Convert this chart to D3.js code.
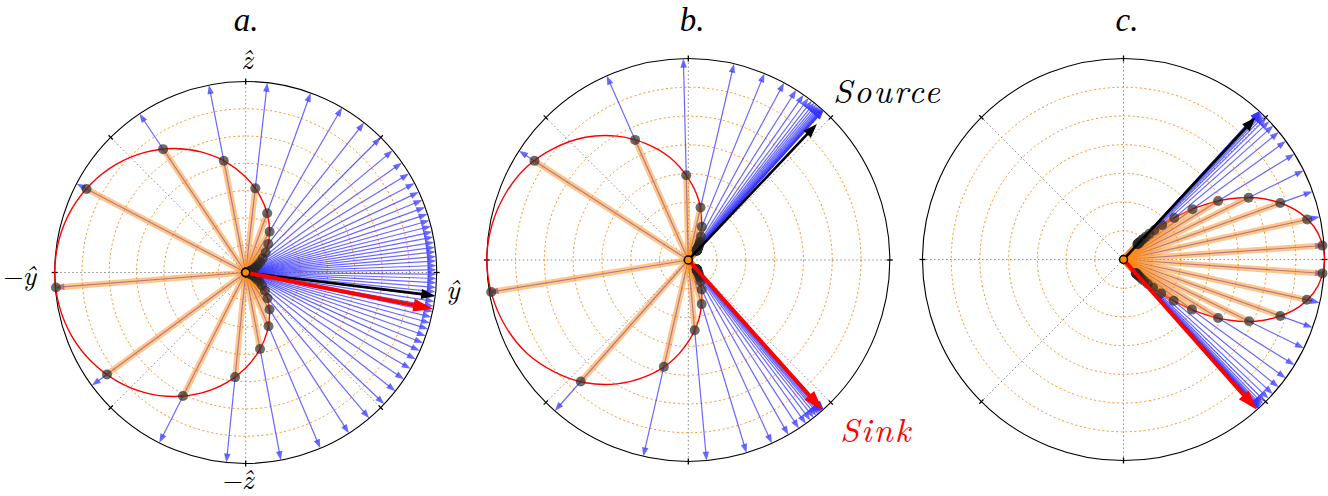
<!DOCTYPE html>
<html>
<head>
<meta charset="utf-8">
<script src="https://cdn.jsdelivr.net/npm/d3@7"></script>
<style>
body { margin: 0; background: #fff; }
svg { display: block; }
</style>
</head>
<body>
<svg id="fig" width="1328" height="496"></svg>
<script>
// radial axis
var rMax = 1.4;
var gridRadii = [0.2, 0.4, 0.6, 0.8, 1.0, 1.2];
var gridAngles = [0, 45, 90, 135, 180, 225, 270, 315];
var titles = ["a.", "b.", "c."];

// panel a: axis labels
var axisLabelsA = ["ŷ", "ẑ", "−ŷ", "−ẑ"];

// ray directions (deg, counter-clockwise from the right)
var raysA = [184.5, 152.3, 123.8, 101.1, 83.5, 70.1, 59.7, 51.7, 45.0, 39.7, 35.1, 31.2, 27.9,
	24.9, 22.3, 20.0, 17.8, 15.8, 14.0, 12.3, 10.7, 9.1, 7.6, 6.2, 4.8, 3.5, 2.1, 0.8, -0.5,
	-1.8, -3.1, -4.5, -5.8, -7.2, -8.7, -10.2, -11.8, -13.5, -15.3, -17.2, -19.4, -21.7, -24.2,
	-27.0, -30.3, -34.0, -38.4, -43.5, -49.7, -57.3, -67.0, -79.4, -95.8, -116.9, -143.7];
var raysB = [189.2, 147.2, 113.9, 91.4, 76.9, 67.8, 61.6, 57.6, 55.1, 53.4, 52.2, 51.3, 50.6,
	50.0, 49.5, 49.1, 48.8, 48.55, 48.35, 48.2, 48.1, 48.0, 47.9, 47.85,
	228.5, 257.1, 275.2, 286.8, 294.5, 299.8, 303.3, 305.7, 307.3, 308.5, 309.4, 310.1, 310.6,
	311.0, 311.3, 311.55, 311.75, 311.9, 312.0, 312.1, 312.15];
var raysC = [4.0, 12.3, 19.8, 26.3, 31.7, 36.1, 39.4, 41.8, 43.5, 44.7, 45.6, 46.2, 46.6, 46.9,
	47.1, 47.25, 47.35, 47.45, 47.5, 47.55,
	-4.0, -12.4, -19.8, -26.2, -31.7, -36.2, -39.5, -42.0, -43.8, -45.1, -46.0, -46.6, -47.0,
	-47.3, -47.5, -47.65, -47.75, -47.85, -47.9, -47.95];

// red curves [angle, r]
var curveA = [[0, 0], [10, 0.011], [20, 0.042], [30, 0.094], [40, 0.164], [50, 0.25], [60, 0.35],
	[70, 0.461], [80, 0.578], [90, 0.7], [100, 0.822], [110, 0.939], [120, 1.05], [130, 1.15],
	[140, 1.236], [150, 1.306], [160, 1.358], [170, 1.389], [180, 1.4], [190, 1.389], [200, 1.358],
	[210, 1.306], [220, 1.236], [230, 1.15], [240, 1.05], [250, 0.939], [260, 0.822], [270, 0.7],
	[280, 0.578], [290, 0.461], [300, 0.35], [310, 0.25], [320, 0.164], [330, 0.094], [340, 0.042],
	[350, 0.011]];
var curveB = [[0, 0], [10, 0.001], [20, 0.007], [30, 0.021], [40, 0.049], [50, 0.098], [60, 0.168],
	[70, 0.273], [80, 0.42], [90, 0.567], [100, 0.721], [110, 0.861], [120, 0.994], [130, 1.113],
	[140, 1.211], [150, 1.295], [160, 1.351], [170, 1.386], [180, 1.4], [190, 1.386], [200, 1.351],
	[210, 1.295], [220, 1.211], [230, 1.113], [240, 0.994], [250, 0.861], [260, 0.721], [270, 0.567],
	[280, 0.42], [290, 0.273], [300, 0.168], [310, 0.098], [320, 0.049], [330, 0.021], [340, 0.007],
	[350, 0.001]];
var curveC = [[50, 0], [48, 0.125], [46, 0.209], [43, 0.313], [40, 0.432], [35, 0.641], [30, 0.843],
	[25, 1.017], [20, 1.156], [15, 1.268], [10, 1.344], [5, 1.386], [0, 1.4], [-5, 1.386],
	[-10, 1.344], [-15, 1.268], [-20, 1.156], [-25, 1.017], [-30, 0.843], [-35, 0.641],
	[-40, 0.432], [-43, 0.313], [-46, 0.209], [-48, 0.125]];

// source (black) and sink (red) arrows: direction, length
var sourceDir = [-7, 46.6, 47.1];
var sourceLen = [1.4, 1.3, 1.35];
var sinkDir = [-11, -48.2, -48.4];
var sinkLen = [1.4, 1.4, 1.4];

var panels = [
	{cx: 245.7, cy: 272.5, R: 191, rays: raysA, curve: curveA, tx: 246},
	{cx: 688.3, cy: 260, R: 201.5, rays: raysB, curve: curveB, tx: 692},
	{cx: 1123.5, cy: 259.5, R: 201, rays: raysC, curve: curveC, tx: 1127}
];

var FONT = "'Latin Modern Roman', 'Liberation Serif', serif";
var TITLE_FONT = "'Liberation Serif'";

var svg = d3.select('#fig');
var ang = d3.scaleLinear().domain([0, 360]).range([Math.PI / 2, Math.PI / 2 - 2 * Math.PI]);
var rad = function(d) { return d * Math.PI / 180; };

var curveAt = function(curve, a) {
	var pts = curve.map(function(d) { return [((d[0] % 360) + 360) % 360, d[1]]; })
		.sort(function(u, v) { return u[0] - v[0]; });
	var last = pts[pts.length - 1], first = pts[0];
	pts = [[last[0] - 360, last[1]]].concat(pts, [[first[0] + 360, first[1]]]);
	a = ((a % 360) + 360) % 360;
	var i = d3.bisector(function(d) { return d[0]; }).right(pts, a);
	var p0 = pts[i - 1], p1 = pts[i];
	var t = (a - p0[0]) / (p1[0] - p0[0]);
	return p0[1] + t * (p1[1] - p0[1]);
};

var drawArrow = function(g, dir, L, o) {
	var a = g.append('g').attr('transform', 'rotate(' + (-dir) + ')');
	a.append('line')
		.attr('x1', 0).attr('y1', 0)
		.attr('x2', L - o.hl * 0.8).attr('y2', 0)
		.attr('stroke', o.color).attr('stroke-width', o.lw);
	a.append('path')
		.attr('d', 'M' + L + ',0L' + (L - o.hl) + ',' + (o.hw / 2) + 'L' + (L - o.hl) + ',' + (-o.hw / 2) + 'Z')
		.attr('fill', o.color);
};

var label = function(x, y, txt, size, anchor, fam) {
	return svg.append('text')
		.attr('x', x).attr('y', y)
		.attr('text-anchor', anchor || 'start')
		.style('font-family', fam || FONT)
		.style('font-style', 'italic')
		.style('font-size', size + 'px')
		.text(txt);
};

panels.forEach(function(p, pi) {
	var rs = d3.scaleLinear().domain([0, rMax]).range([0, p.R]);
	var g = svg.append('g').attr('transform', 'translate(' + p.cx + ',' + p.cy + ')');

	// grid
	g.append('g').selectAll('circle').data(gridRadii).enter().append('circle')
		.attr('r', function(d) { return rs(d); })
		.attr('fill', 'none')
		.attr('stroke', '#ff8c1a')
		.attr('stroke-width', 1)
		.attr('stroke-dasharray', '2,2.6');

	g.append('g').selectAll('line').data(gridAngles).enter().append('line')
		.attr('x1', 0).attr('y1', 0)
		.attr('x2', function(d) { return rs(rMax) * Math.cos(rad(d)); })
		.attr('y2', function(d) { return -rs(rMax) * Math.sin(rad(d)); })
		.attr('stroke', '#8a8a8a')
		.attr('stroke-width', 1)
		.attr('stroke-dasharray', '1.5,2.5');

	g.append('circle')
		.attr('r', rs(rMax))
		.attr('fill', 'none')
		.attr('stroke', '#000')
		.attr('stroke-width', 1.1);

	g.append('g').selectAll('line').data(gridAngles).enter().append('line')
		.attr('x1', function(d) { return (rs(rMax) - 3) * Math.cos(rad(d)); })
		.attr('y1', function(d) { return -(rs(rMax) - 3) * Math.sin(rad(d)); })
		.attr('x2', function(d) { return (rs(rMax) + 3) * Math.cos(rad(d)); })
		.attr('y2', function(d) { return -(rs(rMax) + 3) * Math.sin(rad(d)); })
		.attr('stroke', '#000')
		.attr('stroke-width', 1.3);

	// blue rays
	var rays = g.append('g');
	p.rays.forEach(function(d) {
		drawArrow(rays, d, rs(rMax), {color: 'rgba(55,55,255,0.75)', lw: 1.2, hl: 9, hw: 6.5});
	});

	// red curve
	var line = d3.lineRadial()
		.angle(function(d) { return ang(d[0]); })
		.radius(function(d) { return rs(d[1]); })
		.curve(d3.curveCatmullRomClosed.alpha(0.5));
	g.append('path')
		.attr('d', line(p.curve))
		.attr('fill', 'none')
		.attr('stroke', '#ff0000')
		.attr('stroke-width', 1.4);

	// orange segments and dots along each ray
	var seg = g.append('g');
	p.rays.forEach(function(d) {
		var r = rs(curveAt(p.curve, d));
		seg.append('line')
			.attr('transform', 'rotate(' + (-d) + ')')
			.attr('x1', 0).attr('y1', 0).attr('x2', r).attr('y2', 0)
			.attr('stroke', 'rgba(255,140,20,0.5)')
			.attr('stroke-width', 6);
	});
	var dots = g.append('g');
	p.rays.forEach(function(d) {
		var r = rs(curveAt(p.curve, d));
		dots.append('circle')
			.attr('cx', r * Math.cos(rad(d)))
			.attr('cy', -r * Math.sin(rad(d)))
			.attr('r', 5)
			.attr('fill', 'rgba(40,40,40,0.68)');
	});

	// source and sink
	drawArrow(g, sourceDir[pi], rs(sourceLen[pi]), {color: '#000', lw: 2.6, hl: 14, hw: 10});
	drawArrow(g, sinkDir[pi], rs(sinkLen[pi]), {color: '#ff0000', lw: 4, hl: 20, hw: 13});

	g.append('circle')
		.attr('r', 4)
		.attr('fill', '#ff8c00')
		.attr('stroke', '#000')
		.attr('stroke-width', 1.5);

	label(p.tx, 31, titles[pi], 33, 'middle', TITLE_FONT);
});

// axis labels of panel a
label(446, 299, axisLabelsA[0], 28, 'start');
label(247, 69, axisLabelsA[1], 28, 'middle');
label(1, 285, axisLabelsA[2], 28, 'start');
label(237, 489, axisLabelsA[3], 28, 'middle');

label(833, 103, 'Source', 34).style('letter-spacing', '2px');
label(840, 442, 'Sink', 34).style('letter-spacing', '2px').attr('fill', '#ff0000');
</script>
</body>
</html>
